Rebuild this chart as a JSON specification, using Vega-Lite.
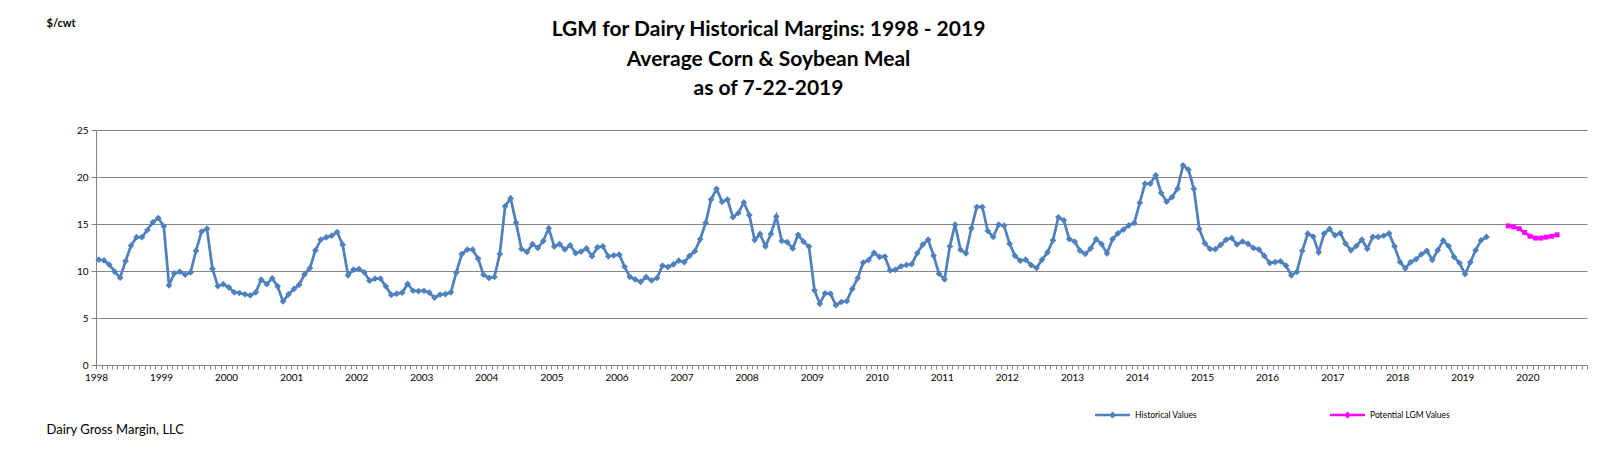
{
"$schema": "https://vega.github.io/schema/vega-lite/v6.json",
"width": 1491, "height": 235,
"autosize": {"type": "none"},
"padding": {"left": 96, "top": 130, "right": 25, "bottom": 108},
"background": "white",
"config": {"view": {"stroke": null}, "font": "Lato"},
"title": {"text": ["LGM for Dairy Historical Margins: 1998 - 2019", "Average Corn & Soybean Meal", "as of 7-22-2019"], "font": "Lato", "fontSize": 21, "fontWeight": "bold", "color": "#000", "anchor": "middle", "frame": "group", "dx": -73, "offset": -82, "lineHeight": 29.5},
"data": {"values": [
{"month":"1998-01","margin":11.2,"series":"Historical Values"},
{"month":"1998-02","margin":11.13,"series":"Historical Values"},
{"month":"1998-03","margin":10.67,"series":"Historical Values"},
{"month":"1998-04","margin":9.93,"series":"Historical Values"},
{"month":"1998-05","margin":9.29,"series":"Historical Values"},
{"month":"1998-06","margin":11.06,"series":"Historical Values"},
{"month":"1998-07","margin":12.7,"series":"Historical Values"},
{"month":"1998-08","margin":13.6,"series":"Historical Values"},
{"month":"1998-09","margin":13.6,"series":"Historical Values"},
{"month":"1998-10","margin":14.36,"series":"Historical Values"},
{"month":"1998-11","margin":15.18,"series":"Historical Values"},
{"month":"1998-12","margin":15.64,"series":"Historical Values"},
{"month":"1999-01","margin":14.75,"series":"Historical Values"},
{"month":"1999-02","margin":8.48,"series":"Historical Values"},
{"month":"1999-03","margin":9.75,"series":"Historical Values"},
{"month":"1999-04","margin":9.93,"series":"Historical Values"},
{"month":"1999-05","margin":9.6,"series":"Historical Values"},
{"month":"1999-06","margin":9.86,"series":"Historical Values"},
{"month":"1999-07","margin":12.16,"series":"Historical Values"},
{"month":"1999-08","margin":14.18,"series":"Historical Values"},
{"month":"1999-09","margin":14.5,"series":"Historical Values"},
{"month":"1999-10","margin":10.25,"series":"Historical Values"},
{"month":"1999-11","margin":8.4,"series":"Historical Values"},
{"month":"1999-12","margin":8.6,"series":"Historical Values"},
{"month":"2000-01","margin":8.26,"series":"Historical Values"},
{"month":"2000-02","margin":7.73,"series":"Historical Values"},
{"month":"2000-03","margin":7.66,"series":"Historical Values"},
{"month":"2000-04","margin":7.52,"series":"Historical Values"},
{"month":"2000-05","margin":7.41,"series":"Historical Values"},
{"month":"2000-06","margin":7.73,"series":"Historical Values"},
{"month":"2000-07","margin":9.08,"series":"Historical Values"},
{"month":"2000-08","margin":8.6,"series":"Historical Values"},
{"month":"2000-09","margin":9.22,"series":"Historical Values"},
{"month":"2000-10","margin":8.37,"series":"Historical Values"},
{"month":"2000-11","margin":6.77,"series":"Historical Values"},
{"month":"2000-12","margin":7.52,"series":"Historical Values"},
{"month":"2001-01","margin":8.09,"series":"Historical Values"},
{"month":"2001-02","margin":8.55,"series":"Historical Values"},
{"month":"2001-03","margin":9.65,"series":"Historical Values"},
{"month":"2001-04","margin":10.32,"series":"Historical Values"},
{"month":"2001-05","margin":12.2,"series":"Historical Values"},
{"month":"2001-06","margin":13.33,"series":"Historical Values"},
{"month":"2001-07","margin":13.58,"series":"Historical Values"},
{"month":"2001-08","margin":13.76,"series":"Historical Values"},
{"month":"2001-09","margin":14.15,"series":"Historical Values"},
{"month":"2001-10","margin":12.8,"series":"Historical Values"},
{"month":"2001-11","margin":9.54,"series":"Historical Values"},
{"month":"2001-12","margin":10.14,"series":"Historical Values"},
{"month":"2002-01","margin":10.2,"series":"Historical Values"},
{"month":"2002-02","margin":9.86,"series":"Historical Values"},
{"month":"2002-03","margin":8.97,"series":"Historical Values"},
{"month":"2002-04","margin":9.18,"series":"Historical Values"},
{"month":"2002-05","margin":9.18,"series":"Historical Values"},
{"month":"2002-06","margin":8.37,"series":"Historical Values"},
{"month":"2002-07","margin":7.45,"series":"Historical Values"},
{"month":"2002-08","margin":7.59,"series":"Historical Values"},
{"month":"2002-09","margin":7.7,"series":"Historical Values"},
{"month":"2002-10","margin":8.62,"series":"Historical Values"},
{"month":"2002-11","margin":7.9,"series":"Historical Values"},
{"month":"2002-12","margin":7.87,"series":"Historical Values"},
{"month":"2003-01","margin":7.9,"series":"Historical Values"},
{"month":"2003-02","margin":7.7,"series":"Historical Values"},
{"month":"2003-03","margin":7.16,"series":"Historical Values"},
{"month":"2003-04","margin":7.48,"series":"Historical Values"},
{"month":"2003-05","margin":7.55,"series":"Historical Values"},
{"month":"2003-06","margin":7.73,"series":"Historical Values"},
{"month":"2003-07","margin":9.82,"series":"Historical Values"},
{"month":"2003-08","margin":11.8,"series":"Historical Values"},
{"month":"2003-09","margin":12.27,"series":"Historical Values"},
{"month":"2003-10","margin":12.27,"series":"Historical Values"},
{"month":"2003-11","margin":11.31,"series":"Historical Values"},
{"month":"2003-12","margin":9.6,"series":"Historical Values"},
{"month":"2004-01","margin":9.26,"series":"Historical Values"},
{"month":"2004-02","margin":9.36,"series":"Historical Values"},
{"month":"2004-03","margin":11.8,"series":"Historical Values"},
{"month":"2004-04","margin":16.9,"series":"Historical Values"},
{"month":"2004-05","margin":17.73,"series":"Historical Values"},
{"month":"2004-06","margin":15.15,"series":"Historical Values"},
{"month":"2004-07","margin":12.35,"series":"Historical Values"},
{"month":"2004-08","margin":12.03,"series":"Historical Values"},
{"month":"2004-09","margin":12.85,"series":"Historical Values"},
{"month":"2004-10","margin":12.45,"series":"Historical Values"},
{"month":"2004-11","margin":13.2,"series":"Historical Values"},
{"month":"2004-12","margin":14.55,"series":"Historical Values"},
{"month":"2005-01","margin":12.6,"series":"Historical Values"},
{"month":"2005-02","margin":12.87,"series":"Historical Values"},
{"month":"2005-03","margin":12.3,"series":"Historical Values"},
{"month":"2005-04","margin":12.73,"series":"Historical Values"},
{"month":"2005-05","margin":11.9,"series":"Historical Values"},
{"month":"2005-06","margin":12.07,"series":"Historical Values"},
{"month":"2005-07","margin":12.4,"series":"Historical Values"},
{"month":"2005-08","margin":11.58,"series":"Historical Values"},
{"month":"2005-09","margin":12.52,"series":"Historical Values"},
{"month":"2005-10","margin":12.62,"series":"Historical Values"},
{"month":"2005-11","margin":11.56,"series":"Historical Values"},
{"month":"2005-12","margin":11.66,"series":"Historical Values"},
{"month":"2006-01","margin":11.74,"series":"Historical Values"},
{"month":"2006-02","margin":10.45,"series":"Historical Values"},
{"month":"2006-03","margin":9.38,"series":"Historical Values"},
{"month":"2006-04","margin":9.1,"series":"Historical Values"},
{"month":"2006-05","margin":8.85,"series":"Historical Values"},
{"month":"2006-06","margin":9.35,"series":"Historical Values"},
{"month":"2006-07","margin":9.0,"series":"Historical Values"},
{"month":"2006-08","margin":9.26,"series":"Historical Values"},
{"month":"2006-09","margin":10.57,"series":"Historical Values"},
{"month":"2006-10","margin":10.43,"series":"Historical Values"},
{"month":"2006-11","margin":10.7,"series":"Historical Values"},
{"month":"2006-12","margin":11.1,"series":"Historical Values"},
{"month":"2007-01","margin":10.94,"series":"Historical Values"},
{"month":"2007-02","margin":11.6,"series":"Historical Values"},
{"month":"2007-03","margin":12.1,"series":"Historical Values"},
{"month":"2007-04","margin":13.38,"series":"Historical Values"},
{"month":"2007-05","margin":15.12,"series":"Historical Values"},
{"month":"2007-06","margin":17.6,"series":"Historical Values"},
{"month":"2007-07","margin":18.74,"series":"Historical Values"},
{"month":"2007-08","margin":17.36,"series":"Historical Values"},
{"month":"2007-09","margin":17.6,"series":"Historical Values"},
{"month":"2007-10","margin":15.72,"series":"Historical Values"},
{"month":"2007-11","margin":16.17,"series":"Historical Values"},
{"month":"2007-12","margin":17.3,"series":"Historical Values"},
{"month":"2008-01","margin":15.95,"series":"Historical Values"},
{"month":"2008-02","margin":13.3,"series":"Historical Values"},
{"month":"2008-03","margin":13.94,"series":"Historical Values"},
{"month":"2008-04","margin":12.62,"series":"Historical Values"},
{"month":"2008-05","margin":13.94,"series":"Historical Values"},
{"month":"2008-06","margin":15.8,"series":"Historical Values"},
{"month":"2008-07","margin":13.2,"series":"Historical Values"},
{"month":"2008-08","margin":13.07,"series":"Historical Values"},
{"month":"2008-09","margin":12.4,"series":"Historical Values"},
{"month":"2008-10","margin":13.85,"series":"Historical Values"},
{"month":"2008-11","margin":13.12,"series":"Historical Values"},
{"month":"2008-12","margin":12.6,"series":"Historical Values"},
{"month":"2009-01","margin":7.94,"series":"Historical Values"},
{"month":"2009-02","margin":6.52,"series":"Historical Values"},
{"month":"2009-03","margin":7.62,"series":"Historical Values"},
{"month":"2009-04","margin":7.59,"series":"Historical Values"},
{"month":"2009-05","margin":6.36,"series":"Historical Values"},
{"month":"2009-06","margin":6.7,"series":"Historical Values"},
{"month":"2009-07","margin":6.8,"series":"Historical Values"},
{"month":"2009-08","margin":8.09,"series":"Historical Values"},
{"month":"2009-09","margin":9.25,"series":"Historical Values"},
{"month":"2009-10","margin":10.88,"series":"Historical Values"},
{"month":"2009-11","margin":11.17,"series":"Historical Values"},
{"month":"2009-12","margin":11.93,"series":"Historical Values"},
{"month":"2010-01","margin":11.5,"series":"Historical Values"},
{"month":"2010-02","margin":11.54,"series":"Historical Values"},
{"month":"2010-03","margin":10.07,"series":"Historical Values"},
{"month":"2010-04","margin":10.14,"series":"Historical Values"},
{"month":"2010-05","margin":10.5,"series":"Historical Values"},
{"month":"2010-06","margin":10.64,"series":"Historical Values"},
{"month":"2010-07","margin":10.74,"series":"Historical Values"},
{"month":"2010-08","margin":11.91,"series":"Historical Values"},
{"month":"2010-09","margin":12.8,"series":"Historical Values"},
{"month":"2010-10","margin":13.33,"series":"Historical Values"},
{"month":"2010-11","margin":11.63,"series":"Historical Values"},
{"month":"2010-12","margin":9.72,"series":"Historical Values"},
{"month":"2011-01","margin":9.11,"series":"Historical Values"},
{"month":"2011-02","margin":12.62,"series":"Historical Values"},
{"month":"2011-03","margin":14.93,"series":"Historical Values"},
{"month":"2011-04","margin":12.27,"series":"Historical Values"},
{"month":"2011-05","margin":11.88,"series":"Historical Values"},
{"month":"2011-06","margin":14.54,"series":"Historical Values"},
{"month":"2011-07","margin":16.81,"series":"Historical Values"},
{"month":"2011-08","margin":16.81,"series":"Historical Values"},
{"month":"2011-09","margin":14.26,"series":"Historical Values"},
{"month":"2011-10","margin":13.62,"series":"Historical Values"},
{"month":"2011-11","margin":14.93,"series":"Historical Values"},
{"month":"2011-12","margin":14.82,"series":"Historical Values"},
{"month":"2012-01","margin":12.91,"series":"Historical Values"},
{"month":"2012-02","margin":11.63,"series":"Historical Values"},
{"month":"2012-03","margin":11.1,"series":"Historical Values"},
{"month":"2012-04","margin":11.2,"series":"Historical Values"},
{"month":"2012-05","margin":10.62,"series":"Historical Values"},
{"month":"2012-06","margin":10.32,"series":"Historical Values"},
{"month":"2012-07","margin":11.2,"series":"Historical Values"},
{"month":"2012-08","margin":11.99,"series":"Historical Values"},
{"month":"2012-09","margin":13.26,"series":"Historical Values"},
{"month":"2012-10","margin":15.71,"series":"Historical Values"},
{"month":"2012-11","margin":15.39,"series":"Historical Values"},
{"month":"2012-12","margin":13.4,"series":"Historical Values"},
{"month":"2013-01","margin":13.12,"series":"Historical Values"},
{"month":"2013-02","margin":12.16,"series":"Historical Values"},
{"month":"2013-03","margin":11.81,"series":"Historical Values"},
{"month":"2013-04","margin":12.41,"series":"Historical Values"},
{"month":"2013-05","margin":13.4,"series":"Historical Values"},
{"month":"2013-06","margin":12.87,"series":"Historical Values"},
{"month":"2013-07","margin":11.88,"series":"Historical Values"},
{"month":"2013-08","margin":13.4,"series":"Historical Values"},
{"month":"2013-09","margin":14.01,"series":"Historical Values"},
{"month":"2013-10","margin":14.4,"series":"Historical Values"},
{"month":"2013-11","margin":14.86,"series":"Historical Values"},
{"month":"2013-12","margin":15.11,"series":"Historical Values"},
{"month":"2014-01","margin":17.27,"series":"Historical Values"},
{"month":"2014-02","margin":19.29,"series":"Historical Values"},
{"month":"2014-03","margin":19.29,"series":"Historical Values"},
{"month":"2014-04","margin":20.18,"series":"Historical Values"},
{"month":"2014-05","margin":18.3,"series":"Historical Values"},
{"month":"2014-06","margin":17.38,"series":"Historical Values"},
{"month":"2014-07","margin":17.87,"series":"Historical Values"},
{"month":"2014-08","margin":18.76,"series":"Historical Values"},
{"month":"2014-09","margin":21.24,"series":"Historical Values"},
{"month":"2014-10","margin":20.78,"series":"Historical Values"},
{"month":"2014-11","margin":18.74,"series":"Historical Values"},
{"month":"2014-12","margin":14.47,"series":"Historical Values"},
{"month":"2015-01","margin":12.95,"series":"Historical Values"},
{"month":"2015-02","margin":12.34,"series":"Historical Values"},
{"month":"2015-03","margin":12.32,"series":"Historical Values"},
{"month":"2015-04","margin":12.78,"series":"Historical Values"},
{"month":"2015-05","margin":13.33,"series":"Historical Values"},
{"month":"2015-06","margin":13.51,"series":"Historical Values"},
{"month":"2015-07","margin":12.82,"series":"Historical Values"},
{"month":"2015-08","margin":13.14,"series":"Historical Values"},
{"month":"2015-09","margin":12.89,"series":"Historical Values"},
{"month":"2015-10","margin":12.45,"series":"Historical Values"},
{"month":"2015-11","margin":12.3,"series":"Historical Values"},
{"month":"2015-12","margin":11.6,"series":"Historical Values"},
{"month":"2016-01","margin":10.85,"series":"Historical Values"},
{"month":"2016-02","margin":10.94,"series":"Historical Values"},
{"month":"2016-03","margin":11.03,"series":"Historical Values"},
{"month":"2016-04","margin":10.58,"series":"Historical Values"},
{"month":"2016-05","margin":9.54,"series":"Historical Values"},
{"month":"2016-06","margin":9.9,"series":"Historical Values"},
{"month":"2016-07","margin":12.15,"series":"Historical Values"},
{"month":"2016-08","margin":13.97,"series":"Historical Values"},
{"month":"2016-09","margin":13.66,"series":"Historical Values"},
{"month":"2016-10","margin":11.99,"series":"Historical Values"},
{"month":"2016-11","margin":13.97,"series":"Historical Values"},
{"month":"2016-12","margin":14.48,"series":"Historical Values"},
{"month":"2017-01","margin":13.8,"series":"Historical Values"},
{"month":"2017-02","margin":14.04,"series":"Historical Values"},
{"month":"2017-03","margin":12.92,"series":"Historical Values"},
{"month":"2017-04","margin":12.2,"series":"Historical Values"},
{"month":"2017-05","margin":12.66,"series":"Historical Values"},
{"month":"2017-06","margin":13.33,"series":"Historical Values"},
{"month":"2017-07","margin":12.36,"series":"Historical Values"},
{"month":"2017-08","margin":13.62,"series":"Historical Values"},
{"month":"2017-09","margin":13.62,"series":"Historical Values"},
{"month":"2017-10","margin":13.75,"series":"Historical Values"},
{"month":"2017-11","margin":14.0,"series":"Historical Values"},
{"month":"2017-12","margin":12.62,"series":"Historical Values"},
{"month":"2018-01","margin":10.96,"series":"Historical Values"},
{"month":"2018-02","margin":10.28,"series":"Historical Values"},
{"month":"2018-03","margin":10.94,"series":"Historical Values"},
{"month":"2018-04","margin":11.25,"series":"Historical Values"},
{"month":"2018-05","margin":11.78,"series":"Historical Values"},
{"month":"2018-06","margin":12.15,"series":"Historical Values"},
{"month":"2018-07","margin":11.17,"series":"Historical Values"},
{"month":"2018-08","margin":12.22,"series":"Historical Values"},
{"month":"2018-09","margin":13.25,"series":"Historical Values"},
{"month":"2018-10","margin":12.66,"series":"Historical Values"},
{"month":"2018-11","margin":11.49,"series":"Historical Values"},
{"month":"2018-12","margin":10.85,"series":"Historical Values"},
{"month":"2019-01","margin":9.68,"series":"Historical Values"},
{"month":"2019-02","margin":10.92,"series":"Historical Values"},
{"month":"2019-03","margin":12.2,"series":"Historical Values"},
{"month":"2019-04","margin":13.26,"series":"Historical Values"},
{"month":"2019-05","margin":13.62,"series":"Historical Values"},
{"month":"2019-09","margin":14.8,"series":"Potential LGM Values"},
{"month":"2019-10","margin":14.7,"series":"Potential LGM Values"},
{"month":"2019-11","margin":14.5,"series":"Potential LGM Values"},
{"month":"2019-12","margin":14.1,"series":"Potential LGM Values"},
{"month":"2020-01","margin":13.7,"series":"Potential LGM Values"},
{"month":"2020-02","margin":13.5,"series":"Potential LGM Values"},
{"month":"2020-03","margin":13.5,"series":"Potential LGM Values"},
{"month":"2020-04","margin":13.6,"series":"Potential LGM Values"},
{"month":"2020-05","margin":13.7,"series":"Potential LGM Values"},
{"month":"2020-06","margin":13.85,"series":"Potential LGM Values"}
]},
"encoding": {
  "x": {"field": "month", "type": "temporal", "timeUnit": "utcyearmonth", "bandPosition": 0.5,
    "scale": {"type": "utc", "domain": [{"year": 1998, "month": 1, "date": 1, "utc": true}, {"year": 2020, "month": 12, "date": 1, "utc": true}]},
    "axis": {"title": "Dairy Gross Margin, LLC", "titleX": -50, "titleY": 64, "titleAlign": "left", "titleBaseline": "middle", "titleFont": "Lato", "titleFontSize": 13, "titleFontWeight": "normal", "titleColor": "#000",
      "grid": false, "tickCount": {"interval": "month", "step": 1}, "labelExpr": "utcmonth(datum.value) === 0 ? utcFormat(datum.value, '%Y') : ''",
      "labelOverlap": false, "labelFlush": false, "labelBound": false, "labelDx": 3, "labelPadding": 3, "labelFont": "Lato", "labelFontSize": 10, "labelColor": "#000", "labelAngle": 0,
      "tickSize": 4, "tickColor": "#868686", "domainColor": "#868686"}},
  "y": {"field": "margin", "type": "quantitative", "scale": {"domain": [0, 25], "nice": false},
    "axis": {"title": "$/cwt", "titleAngle": 0, "titleX": -50, "titleY": -107, "titleAlign": "left", "titleBaseline": "middle", "titleFont": "Lato", "titleFontSize": 11, "titleFontWeight": "bold", "titleColor": "#000",
      "values": [0, 5, 10, 15, 20, 25], "gridColor": "#868686", "domainColor": "#868686", "tickColor": "#868686", "tickSize": 5, "labelFont": "Lato", "labelFontSize": 10, "labelPadding": 3, "labelColor": "#000"}}
},
"layer": [
  {"transform": [{"filter": "datum.series === 'Historical Values'"}],
   "mark": {"type": "line", "strokeWidth": 2.75, "color": "#4F81BD"}, "encoding": {}},
  {"transform": [{"filter": "datum.series === 'Potential LGM Values'"}],
   "mark": {"type": "line", "strokeWidth": 2.75, "color": "#FF00FF"}, "encoding": {}},
  {"transform": [{"filter": "datum.series === 'Historical Values'"}],
   "mark": {"type": "point", "filled": true, "opacity": 1, "shape": "diamond", "size": 45},
   "encoding": {"color": {"field": "series", "type": "nominal", "scale": {"domain": ["Historical Values", "Potential LGM Values"], "range": ["#4F81BD", "#FF00FF"]},
     "legend": {"title": null, "orient": "none", "direction": "horizontal", "legendX": 999, "legendY": 267.5, "padding": 0,
       "symbolType": "M-1,-0.075H1V0.075H-1ZM0,-0.2L0.2,0L0,0.2L-0.2,0Z", "symbolSize": 1225, "symbolStrokeWidth": 0, "symbolOpacity": 1,
       "labelFont": "Lato", "labelFontSize": 8.5, "labelColor": "#000", "labelOffset": 5, "columnPadding": 133}}}},
  {"transform": [{"filter": "datum.series === 'Potential LGM Values'"}],
   "mark": {"type": "point", "filled": true, "opacity": 1, "shape": "square", "size": 24},
   "encoding": {"color": {"field": "series", "type": "nominal"}}}
]
}
